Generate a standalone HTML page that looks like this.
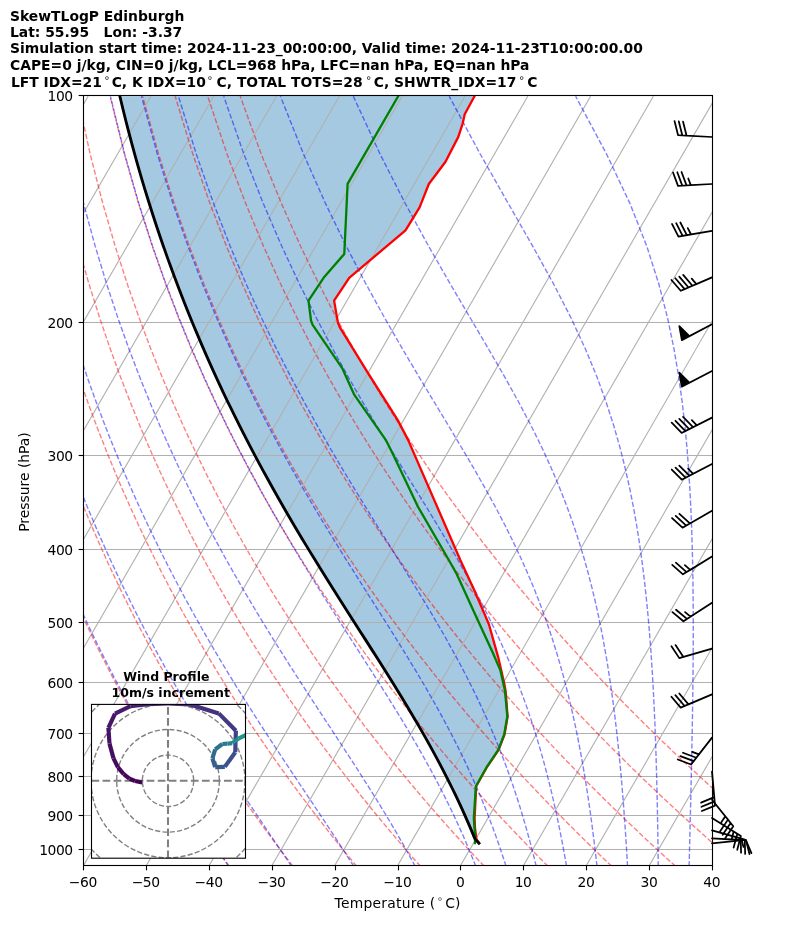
<!DOCTYPE html>
<html lang="en"><head><meta charset="utf-8"><title>SkewTLogP Edinburgh</title>
<style>html,body{margin:0;padding:0;background:#fff}svg{display:block}</style></head>
<body>
<svg width="794" height="937" viewBox="0 0 794 937" style="display:block">
<rect width="794" height="937" fill="#fff"/>
<defs><clipPath id="ax"><rect x="83.5" y="95.5" width="629.0" height="770.0"/></clipPath>
</defs>
<g clip-path="url(#ax)">
<polygon points="478.96,843.20 474.90,838.80 474.62,838.12 472.04,831.89 469.39,825.65 466.68,819.42 463.91,813.19 461.08,806.95 458.18,800.72 455.22,794.48 452.20,788.25 449.12,782.02 445.98,775.78 442.77,769.55 439.51,763.32 436.18,757.08 432.80,750.85 429.36,744.61 425.86,738.38 422.32,732.15 418.72,725.91 415.08,719.68 411.40,713.45 407.68,707.21 403.92,700.98 400.12,694.74 396.28,688.51 392.42,682.28 388.53,676.04 384.61,669.81 380.68,663.57 376.73,657.34 372.76,651.11 368.78,644.87 364.80,638.64 360.81,632.41 356.82,626.17 352.83,619.94 348.85,613.70 344.87,607.47 340.90,601.24 336.95,595.00 333.01,588.77 329.08,582.54 325.18,576.30 321.29,570.07 317.43,563.83 313.59,557.60 309.78,551.37 305.99,545.13 302.23,538.90 298.50,532.67 294.79,526.43 291.12,520.20 287.48,513.96 283.87,507.73 280.30,501.50 276.75,495.26 273.24,489.03 269.77,482.79 266.33,476.56 262.92,470.33 259.54,464.09 256.21,457.86 252.90,451.63 249.64,445.39 246.40,439.16 243.21,432.92 240.04,426.69 236.92,420.46 233.83,414.22 230.77,407.99 227.75,401.76 224.76,395.52 221.81,389.29 218.90,383.05 216.01,376.82 213.17,370.59 210.36,364.35 207.58,358.12 204.83,351.89 202.13,345.65 199.45,339.42 196.81,333.18 194.20,326.95 191.63,320.72 189.09,314.48 186.58,308.25 184.10,302.02 181.66,295.78 179.25,289.55 176.88,283.31 174.53,277.08 172.22,270.85 169.94,264.61 167.69,258.38 165.48,252.14 163.29,245.91 161.14,239.68 159.02,233.44 156.92,227.21 154.86,220.98 152.83,214.74 150.84,208.51 148.87,202.27 146.93,196.04 145.02,189.81 143.14,183.57 141.29,177.34 139.47,171.11 137.68,164.87 135.92,158.64 134.19,152.40 132.49,146.17 130.81,139.94 129.17,133.70 127.55,127.47 125.96,121.24 124.40,115.00 122.87,108.77 121.36,102.53 119.89,96.30 474.90,95.50 464.70,114.30 462.70,123.30 458.30,136.90 445.50,161.70 428.80,184.00 419.60,207.30 405.50,230.40 349.20,277.80 334.10,300.60 337.90,322.60 340.00,327.70 366.80,371.20 397.60,419.90 408.30,440.40 460.30,560.00 473.50,588.40 488.90,624.30 498.30,657.60 504.20,683.20 505.60,690.90 507.60,716.50 504.60,734.40 498.60,749.80 486.60,767.70 476.20,786.20 475.00,810.40 474.60,817.90 475.00,828.00 476.50,839.50 479.00,843.00" fill="#1f77b4" fill-opacity="0.4"/>
<g stroke="#b0b0b0" stroke-width="1.11" fill="none">
<line x1="83.5" y1="95.50" x2="712.5" y2="95.50"/>
<line x1="83.5" y1="322.50" x2="712.5" y2="322.50"/>
<line x1="83.5" y1="455.50" x2="712.5" y2="455.50"/>
<line x1="83.5" y1="549.50" x2="712.5" y2="549.50"/>
<line x1="83.5" y1="622.50" x2="712.5" y2="622.50"/>
<line x1="83.5" y1="682.50" x2="712.5" y2="682.50"/>
<line x1="83.5" y1="733.50" x2="712.5" y2="733.50"/>
<line x1="83.5" y1="776.50" x2="712.5" y2="776.50"/>
<line x1="83.5" y1="815.50" x2="712.5" y2="815.50"/>
<line x1="83.5" y1="849.50" x2="712.5" y2="849.50"/>
<line x1="-419.39" y1="866.30" x2="25.28" y2="96.30"/>
<line x1="-356.58" y1="866.30" x2="88.09" y2="96.30"/>
<line x1="-293.77" y1="866.30" x2="150.90" y2="96.30"/>
<line x1="-230.96" y1="866.30" x2="213.71" y2="96.30"/>
<line x1="-168.15" y1="866.30" x2="276.52" y2="96.30"/>
<line x1="-105.34" y1="866.30" x2="339.33" y2="96.30"/>
<line x1="-42.53" y1="866.30" x2="402.14" y2="96.30"/>
<line x1="20.28" y1="866.30" x2="464.95" y2="96.30"/>
<line x1="83.09" y1="866.30" x2="527.76" y2="96.30"/>
<line x1="145.90" y1="866.30" x2="590.57" y2="96.30"/>
<line x1="208.71" y1="866.30" x2="653.38" y2="96.30"/>
<line x1="271.52" y1="866.30" x2="716.19" y2="96.30"/>
<line x1="334.33" y1="866.30" x2="779.00" y2="96.30"/>
<line x1="397.23" y1="866.30" x2="841.90" y2="96.30"/>
<line x1="460.13" y1="866.30" x2="904.80" y2="96.30"/>
<line x1="523.03" y1="866.30" x2="967.70" y2="96.30"/>
<line x1="585.93" y1="866.30" x2="1030.60" y2="96.30"/>
<line x1="648.83" y1="866.30" x2="1093.50" y2="96.30"/>
<line x1="711.73" y1="866.30" x2="1156.40" y2="96.30"/>
</g>
<g stroke="#ff0000" stroke-opacity="0.5" stroke-width="1.389" fill="none" stroke-dasharray="5.139 2.222">
<polyline points="229.26,866.30 224.90,860.20 220.50,853.98 216.06,847.64 211.57,841.17 207.05,834.58 202.48,827.85 197.86,820.98 193.20,813.96 188.49,806.79 183.74,799.45 178.93,791.95 174.07,784.28 169.16,776.41 164.20,768.36 159.18,760.10 154.11,751.63 148.97,742.93 143.78,734.00 138.52,724.82 133.20,715.37 127.82,705.64 122.37,695.61 116.84,685.26 111.25,674.58 105.58,663.54 99.84,652.11 94.01,640.27 88.11,627.98 82.12,615.22 76.05,601.94 69.89,588.09 63.64,573.64 57.29,558.52 50.85,542.66 44.31,526.00 37.68,508.44 30.94,489.89 24.11,470.23 17.18,449.31 10.16,426.96 3.05,402.97 -4.14,377.09 -11.38,348.98 -18.65,318.23 -25.91,284.30 -33.09,246.43 -40.07,203.61 -46.66,154.33 -52.54,96.30"/>
<polyline points="292.96,866.30 288.26,860.20 283.51,853.98 278.72,847.64 273.89,841.17 269.00,834.58 264.07,827.85 259.09,820.98 254.05,813.96 248.96,806.79 243.82,799.45 238.62,791.95 233.37,784.28 228.05,776.41 222.68,768.36 217.24,760.10 211.73,751.63 206.17,742.93 200.53,734.00 194.82,724.82 189.04,715.37 183.18,705.64 177.24,695.61 171.23,685.26 165.13,674.58 158.95,663.54 152.67,652.11 146.31,640.27 139.84,627.98 133.28,615.22 126.62,601.94 119.85,588.09 112.97,573.64 105.98,558.52 98.87,542.66 91.64,526.00 84.29,508.44 76.81,489.89 69.19,470.23 61.45,449.31 53.57,426.96 45.56,402.97 37.43,377.09 29.17,348.98 20.83,318.23 12.42,284.30 4.00,246.43 -4.34,203.61 -12.44,154.33 -20.01,96.30"/>
<polyline points="356.68,866.30 351.63,860.20 346.53,853.98 341.39,847.64 336.20,841.17 330.95,834.58 325.66,827.85 320.31,820.98 314.90,813.96 309.43,806.79 303.90,799.45 298.31,791.95 292.66,784.28 286.94,776.41 281.15,768.36 275.29,760.10 269.36,751.63 263.36,742.93 257.28,734.00 251.11,724.82 244.87,715.37 238.54,705.64 232.12,695.61 225.61,685.26 219.01,674.58 212.31,663.54 205.51,652.11 198.60,640.27 191.58,627.98 184.45,615.22 177.19,601.94 169.82,588.09 162.31,573.64 154.67,558.52 146.90,542.66 138.97,526.00 130.90,508.44 122.67,489.89 114.28,470.23 105.71,449.31 96.98,426.96 88.07,402.97 78.99,377.09 69.73,348.98 60.31,318.23 50.75,284.30 41.08,246.43 31.38,203.61 21.78,154.33 12.52,96.30"/>
<polyline points="420.46,866.30 415.07,860.20 409.63,853.98 404.13,847.64 398.58,841.17 392.97,834.58 387.29,827.85 381.56,820.98 375.76,813.96 369.90,806.79 363.99,799.45 358.00,791.95 351.95,784.28 345.83,776.41 339.63,768.36 333.35,760.10 326.99,751.63 320.55,742.93 314.02,734.00 307.41,724.82 300.70,715.37 293.90,705.64 287.00,695.61 280.00,685.26 272.89,674.58 265.67,663.54 258.34,652.11 250.89,640.27 243.31,627.98 235.61,615.22 227.77,601.94 219.78,588.09 211.65,573.64 203.37,558.52 194.92,542.66 186.30,526.00 177.51,508.44 168.53,489.89 159.36,470.23 149.98,449.31 140.39,426.96 130.59,402.97 120.55,377.09 110.29,348.98 99.79,318.23 89.08,284.30 78.17,246.43 67.11,203.61 56.00,154.33 45.05,96.30"/>
<polyline points="484.25,866.30 478.52,860.20 472.73,853.98 466.89,847.64 460.98,841.17 455.01,834.58 448.97,827.85 442.87,820.98 436.70,813.96 430.46,806.79 424.14,799.45 417.75,791.95 411.29,784.28 404.74,776.41 398.11,768.36 391.40,760.10 384.62,751.63 377.74,742.93 370.77,734.00 363.70,724.82 356.54,715.37 349.26,705.64 341.88,695.61 334.39,685.26 326.77,674.58 319.04,663.54 311.18,652.11 303.18,640.27 295.05,627.98 286.77,615.22 278.34,601.94 269.75,588.09 260.99,573.64 252.06,558.52 242.94,542.66 233.63,526.00 224.12,508.44 214.39,489.89 204.44,470.23 194.25,449.31 183.80,426.96 173.10,402.97 162.12,377.09 150.84,348.98 139.28,318.23 127.41,284.30 115.25,246.43 102.83,203.61 90.22,154.33 77.59,96.30"/>
<polyline points="548.03,866.30 541.96,860.20 535.83,853.98 529.64,847.64 523.38,841.17 517.05,834.58 510.65,827.85 504.18,820.98 497.63,813.96 491.01,806.79 484.31,799.45 477.53,791.95 470.66,784.28 463.71,776.41 456.67,768.36 449.54,760.10 442.31,751.63 434.98,742.93 427.54,734.00 420.01,724.82 412.37,715.37 404.62,705.64 396.76,695.61 388.77,685.26 380.65,674.58 372.40,663.54 364.01,652.11 355.47,640.27 346.78,627.98 337.93,615.22 328.91,601.94 319.71,588.09 310.33,573.64 300.75,558.52 290.97,542.66 280.96,526.00 270.73,508.44 260.26,489.89 249.52,470.23 238.51,449.31 227.22,426.96 215.61,402.97 203.68,377.09 191.40,348.98 178.76,318.23 165.74,284.30 152.34,246.43 138.56,203.61 124.45,154.33 110.12,96.30"/>
<polyline points="611.81,866.30 605.41,860.20 598.93,853.98 592.39,847.64 585.78,841.17 579.09,834.58 572.33,827.85 565.49,820.98 558.57,813.96 551.57,806.79 544.48,799.45 537.31,791.95 530.04,784.28 522.68,776.41 515.23,768.36 507.67,760.10 500.02,751.63 492.25,742.93 484.37,734.00 476.38,724.82 468.27,715.37 460.03,705.64 451.67,695.61 443.16,685.26 434.54,674.58 425.77,663.54 416.85,652.11 407.77,640.27 398.52,627.98 389.09,615.22 379.48,601.94 369.68,588.09 359.67,573.64 349.44,558.52 338.99,542.66 328.29,526.00 317.34,508.44 306.12,489.89 294.60,470.23 282.78,449.31 270.63,426.96 258.12,402.97 245.24,377.09 231.96,348.98 218.24,318.23 204.07,284.30 189.42,246.43 174.28,203.61 158.67,154.33 142.65,96.30"/>
<polyline points="675.59,866.30 668.85,860.20 662.03,853.98 655.14,847.64 648.18,841.17 641.13,834.58 634.01,827.85 626.80,820.98 619.51,813.96 612.12,806.79 604.65,799.45 597.08,791.95 589.42,784.28 581.66,776.41 573.79,768.36 565.81,760.10 557.73,751.63 549.52,742.93 541.20,734.00 532.76,724.82 524.18,715.37 515.47,705.64 506.62,695.61 497.63,685.26 488.48,674.58 479.17,663.54 469.70,652.11 460.06,640.27 450.25,627.98 440.25,615.22 430.05,601.94 419.64,588.09 409.01,573.64 398.13,558.52 387.01,542.66 375.62,526.00 363.95,508.44 351.98,489.89 339.69,470.23 327.05,449.31 314.04,426.96 300.64,402.97 286.81,377.09 272.51,348.98 257.73,318.23 242.40,284.30 226.51,246.43 210.01,203.61 192.89,154.33 175.18,96.30"/>
<polyline points="739.38,866.30 732.29,860.20 725.14,853.98 717.90,847.64 710.58,841.17 703.18,834.58 695.69,827.85 688.11,820.98 680.44,813.96 672.68,806.79 664.82,799.45 656.86,791.95 648.80,784.28 640.63,776.41 632.35,768.36 623.95,760.10 615.44,751.63 606.80,742.93 598.03,734.00 589.13,724.82 580.09,715.37 570.91,705.64 561.58,695.61 552.09,685.26 542.44,674.58 532.61,663.54 522.61,652.11 512.42,640.27 502.03,627.98 491.43,615.22 480.63,601.94 469.61,588.09 458.35,573.64 446.83,558.52 435.04,542.66 422.95,526.00 410.56,508.44 397.84,489.89 384.77,470.23 371.31,449.31 357.45,426.96 343.15,402.97 328.37,377.09 313.07,348.98 297.21,318.23 280.73,284.30 263.59,246.43 245.73,203.61 227.11,154.33 207.72,96.30"/>
<polyline points="803.16,866.30 795.74,860.20 788.24,853.98 780.65,847.64 772.98,841.17 765.22,834.58 757.37,827.85 749.42,820.98 741.38,813.96 733.24,806.79 724.99,799.45 716.64,791.95 708.18,784.28 699.60,776.41 690.91,768.36 682.09,760.10 673.15,751.63 664.07,742.93 654.86,734.00 645.51,724.82 636.01,715.37 626.35,705.64 616.54,695.61 606.55,685.26 596.40,674.58 586.05,663.54 575.52,652.11 564.78,640.27 553.84,627.98 542.67,615.22 531.26,601.94 519.61,588.09 507.69,573.64 495.52,558.52 483.06,542.66 470.28,526.00 457.17,508.44 443.70,489.89 429.85,470.23 415.58,449.31 400.86,426.96 385.66,402.97 369.93,377.09 353.63,348.98 336.69,318.23 319.06,284.30 300.68,246.43 281.46,203.61 261.33,154.33 240.25,96.30"/>
</g>
<g stroke="#0000ff" stroke-opacity="0.5" stroke-width="1.389" fill="none" stroke-dasharray="5.139 2.222">
<polyline points="228.70,866.30 224.57,860.20 220.38,853.98 216.14,847.64 211.84,841.17 207.47,834.58 203.05,827.85 198.57,820.98 194.03,813.96 189.43,806.79 184.77,799.45 180.05,791.95 175.26,784.28 170.42,776.41 165.51,768.36 160.54,760.10 155.50,751.63 150.40,742.93 145.23,734.00 139.99,724.82 134.69,715.37 129.31,705.64 123.87,695.61 118.35,685.26 112.75,674.58 107.08,663.54 101.33,652.11 95.50,640.27 89.58,627.98 83.59,615.22 77.50,601.94 71.32,588.09 65.05,573.64 58.69,558.52 52.23,542.66 45.68,526.00 39.02,508.44 32.27,489.89 25.41,470.23 18.46,449.31 11.41,426.96 4.27,402.97 -2.94,377.09 -10.21,348.98 -17.52,318.23 -24.81,284.30 -32.02,246.43 -39.04,203.61 -45.68,154.33 -51.60,96.30"/>
<polyline points="291.59,866.30 287.45,860.20 283.23,853.98 278.92,847.64 274.53,841.17 270.07,834.58 265.51,827.85 260.88,820.98 256.16,813.96 251.36,806.79 246.48,799.45 241.51,791.95 236.46,784.28 231.33,776.41 226.11,768.36 220.81,760.10 215.43,751.63 209.96,742.93 204.40,734.00 198.76,724.82 193.03,715.37 187.21,705.64 181.30,695.61 175.30,685.26 169.21,674.58 163.02,663.54 156.73,652.11 150.35,640.27 143.87,627.98 137.28,615.22 130.58,601.94 123.77,588.09 116.85,573.64 109.82,558.52 102.66,542.66 95.38,526.00 87.97,508.44 80.43,489.89 72.75,470.23 64.94,449.31 57.00,426.96 48.92,402.97 40.71,377.09 32.38,348.98 23.95,318.23 15.44,284.30 6.92,246.43 -1.52,203.61 -9.74,154.33 -17.44,96.30"/>
<polyline points="353.79,866.30 349.91,860.20 345.92,853.98 341.82,847.64 337.62,841.17 333.31,834.58 328.88,827.85 324.34,820.98 319.68,813.96 314.91,806.79 310.02,799.45 305.01,791.95 299.88,784.28 294.64,776.41 289.27,768.36 283.79,760.10 278.19,751.63 272.47,742.93 266.63,734.00 260.67,724.82 254.59,715.37 248.40,705.64 242.08,695.61 235.64,685.26 229.08,674.58 222.40,663.54 215.59,652.11 208.66,640.27 201.60,627.98 194.40,615.22 187.08,601.94 179.62,588.09 172.02,573.64 164.27,558.52 156.38,542.66 148.33,526.00 140.12,508.44 131.74,489.89 123.20,470.23 114.48,449.31 105.58,426.96 96.49,402.97 87.22,377.09 77.76,348.98 68.13,318.23 58.34,284.30 48.43,246.43 38.46,203.61 28.56,154.33 18.97,96.30"/>
<polyline points="415.17,866.30 411.88,860.20 408.48,853.98 404.95,847.64 401.30,841.17 397.51,834.58 393.59,827.85 389.52,820.98 385.31,813.96 380.94,806.79 376.42,799.45 371.75,791.95 366.93,784.28 361.94,776.41 356.78,768.36 351.45,760.10 345.96,751.63 340.28,742.93 334.44,734.00 328.42,724.82 322.22,715.37 315.85,705.64 309.30,695.61 302.57,685.26 295.67,674.58 288.59,663.54 281.34,652.11 273.92,640.27 266.31,627.98 258.53,615.22 250.58,601.94 242.44,588.09 234.12,573.64 225.61,558.52 216.92,542.66 208.03,526.00 198.93,508.44 189.63,489.89 180.12,470.23 170.37,449.31 160.40,426.96 150.18,402.97 139.71,377.09 128.98,348.98 118.00,318.23 106.75,284.30 95.26,246.43 83.58,203.61 71.78,154.33 60.05,96.30"/>
<polyline points="475.82,866.30 473.40,860.20 470.87,853.98 468.23,847.64 465.48,841.17 462.60,834.58 459.59,827.85 456.45,820.98 453.16,813.96 449.71,806.79 446.10,799.45 442.33,791.95 438.37,784.28 434.22,776.41 429.88,768.36 425.32,760.10 420.55,751.63 415.56,742.93 410.32,734.00 404.86,724.82 399.15,715.37 393.18,705.64 386.95,695.61 380.45,685.26 373.67,674.58 366.62,663.54 359.29,652.11 351.68,640.27 343.80,627.98 335.64,615.22 327.20,601.94 318.48,588.09 309.49,573.64 300.23,558.52 290.70,542.66 280.88,526.00 270.80,508.44 260.42,489.89 249.76,470.23 238.80,449.31 227.53,426.96 215.94,402.97 204.02,377.09 191.74,348.98 179.09,318.23 166.07,284.30 152.65,246.43 138.86,203.61 124.74,154.33 110.40,96.30"/>
<polyline points="506.03,866.30 504.07,860.20 502.03,853.98 499.89,847.64 497.66,841.17 495.32,834.58 492.86,827.85 490.29,820.98 487.59,813.96 484.75,806.79 481.77,799.45 478.63,791.95 475.32,784.28 471.83,776.41 468.16,768.36 464.28,760.10 460.19,751.63 455.86,742.93 451.30,734.00 446.48,724.82 441.38,715.37 436.00,705.64 430.33,695.61 424.35,685.26 418.05,674.58 411.42,663.54 404.44,652.11 397.10,640.27 389.41,627.98 381.36,615.22 372.93,601.94 364.15,588.09 355.00,573.64 345.49,558.52 335.62,542.66 325.39,526.00 314.81,508.44 303.87,489.89 292.58,470.23 280.92,449.31 268.89,426.96 256.48,402.97 243.67,377.09 230.45,348.98 216.78,318.23 202.66,284.30 188.06,246.43 172.97,203.61 157.41,154.33 141.46,96.30"/>
<polyline points="536.25,866.30 534.76,860.20 533.19,853.98 531.56,847.64 529.84,841.17 528.04,834.58 526.15,827.85 524.17,820.98 522.08,813.96 519.89,806.79 517.57,799.45 515.12,791.95 512.54,784.28 509.80,776.41 506.90,768.36 503.83,760.10 500.57,751.63 497.10,742.93 493.41,734.00 489.49,724.82 485.30,715.37 480.83,705.64 476.07,695.61 470.98,685.26 465.55,674.58 459.74,663.54 453.56,652.11 446.97,640.27 439.94,627.98 432.46,615.22 424.51,601.94 416.08,588.09 407.16,573.64 397.73,558.52 387.81,542.66 377.39,526.00 366.48,508.44 355.09,489.89 343.21,470.23 330.85,449.31 318.01,426.96 304.69,402.97 290.87,377.09 276.55,348.98 261.69,318.23 246.27,284.30 230.26,246.43 213.63,203.61 196.36,154.33 178.48,96.30"/>
<polyline points="566.56,866.30 565.49,860.20 564.37,853.98 563.21,847.64 561.98,841.17 560.70,834.58 559.35,827.85 557.93,820.98 556.44,813.96 554.86,806.79 553.19,799.45 551.43,791.95 549.57,784.28 547.59,776.41 545.49,768.36 543.26,760.10 540.88,751.63 538.34,742.93 535.63,734.00 532.72,724.82 529.60,715.37 526.25,705.64 522.64,695.61 518.76,685.26 514.56,674.58 510.03,663.54 505.12,652.11 499.80,640.27 494.03,627.98 487.78,615.22 481.00,601.94 473.66,588.09 465.72,573.64 457.13,558.52 447.87,542.66 437.91,526.00 427.24,508.44 415.84,489.89 403.73,470.23 390.92,449.31 377.40,426.96 363.20,402.97 348.32,377.09 332.76,348.98 316.51,318.23 299.55,284.30 281.83,246.43 263.32,203.61 243.96,154.33 223.73,96.30"/>
<polyline points="596.98,866.30 596.30,860.20 595.58,853.98 594.84,847.64 594.05,841.17 593.23,834.58 592.36,827.85 591.45,820.98 590.49,813.96 589.48,806.79 588.41,799.45 587.27,791.95 586.07,784.28 584.79,776.41 583.43,768.36 581.98,760.10 580.43,751.63 578.77,742.93 576.99,734.00 575.08,724.82 573.02,715.37 570.80,705.64 568.40,695.61 565.79,685.26 562.96,674.58 559.87,663.54 556.49,652.11 552.79,640.27 548.73,627.98 544.26,615.22 539.32,601.94 533.85,588.09 527.80,573.64 521.08,558.52 513.63,542.66 505.36,526.00 496.20,508.44 486.06,489.89 474.88,470.23 462.61,449.31 449.24,426.96 434.75,402.97 419.17,377.09 402.52,348.98 384.84,318.23 366.13,284.30 346.38,246.43 325.56,203.61 303.61,154.33 280.45,96.30"/>
<polyline points="627.54,866.30 627.19,860.20 626.82,853.98 626.44,847.64 626.03,841.17 625.61,834.58 625.16,827.85 624.68,820.98 624.18,813.96 623.65,806.79 623.08,799.45 622.48,791.95 621.84,784.28 621.16,776.41 620.43,768.36 619.65,760.10 618.81,751.63 617.91,742.93 616.94,734.00 615.89,724.82 614.76,715.37 613.52,705.64 612.18,695.61 610.72,685.26 609.12,674.58 607.37,663.54 605.43,652.11 603.30,640.27 600.93,627.98 598.30,615.22 595.35,601.94 592.05,588.09 588.34,573.64 584.13,558.52 579.35,542.66 573.90,526.00 567.65,508.44 560.47,489.89 552.21,470.23 542.70,449.31 531.73,426.96 519.14,402.97 504.78,377.09 488.55,348.98 470.44,318.23 450.48,284.30 428.75,246.43 405.32,203.61 380.20,154.33 353.32,96.30"/>
<polyline points="658.25,866.30 658.18,860.20 658.10,853.98 658.02,847.64 657.93,841.17 657.83,834.58 657.72,827.85 657.60,820.98 657.48,813.96 657.34,806.79 657.19,799.45 657.02,791.95 656.84,784.28 656.64,776.41 656.42,768.36 656.18,760.10 655.91,751.63 655.62,742.93 655.29,734.00 654.94,724.82 654.54,715.37 654.10,705.64 653.60,695.61 653.05,685.26 652.44,674.58 651.75,663.54 650.98,652.11 650.10,640.27 649.11,627.98 647.99,615.22 646.71,601.94 645.25,588.09 643.57,573.64 641.63,558.52 639.38,542.66 636.76,526.00 633.67,508.44 630.02,489.89 625.68,470.23 620.46,449.31 614.14,426.96 606.44,402.97 597.03,377.09 585.43,348.98 571.17,318.23 553.76,284.30 532.84,246.43 508.34,203.61 480.38,154.33 449.21,96.30"/>
<polyline points="689.11,866.30 689.26,860.20 689.41,853.98 689.57,847.64 689.73,841.17 689.90,834.58 690.06,827.85 690.23,820.98 690.40,813.96 690.57,806.79 690.75,799.45 690.92,791.95 691.10,784.28 691.27,776.41 691.45,768.36 691.63,760.10 691.80,751.63 691.97,742.93 692.14,734.00 692.31,724.82 692.47,715.37 692.62,705.64 692.77,695.61 692.90,685.26 693.01,674.58 693.11,663.54 693.19,652.11 693.24,640.27 693.26,627.98 693.23,615.22 693.16,601.94 693.03,588.09 692.83,573.64 692.53,558.52 692.12,542.66 691.58,526.00 690.86,508.44 689.91,489.89 688.69,470.23 687.10,449.31 685.03,426.96 682.32,402.97 678.76,377.09 674.02,348.98 667.63,318.23 658.91,284.30 646.86,246.43 630.01,203.61 606.70,154.33 575.63,96.30"/>
<polyline points="720.09,866.30 720.42,860.20 720.75,853.98 721.10,847.64 721.46,841.17 721.83,834.58 722.20,827.85 722.59,820.98 722.99,813.96 723.40,806.79 723.82,799.45 724.26,791.95 724.71,784.28 725.17,776.41 725.64,768.36 726.13,760.10 726.64,751.63 727.16,742.93 727.69,734.00 728.24,724.82 728.81,715.37 729.39,705.64 730.00,695.61 730.62,685.26 731.25,674.58 731.91,663.54 732.59,652.11 733.28,640.27 734.00,627.98 734.73,615.22 735.49,601.94 736.26,588.09 737.04,573.64 737.84,558.52 738.64,542.66 739.45,526.00 740.25,508.44 741.04,489.89 741.81,470.23 742.51,449.31 743.14,426.96 743.64,402.97 743.94,377.09 743.94,348.98 743.49,318.23 742.32,284.30 739.99,246.43 735.75,203.61 728.17,154.33 714.50,96.30"/>
<polyline points="751.18,866.30 751.65,860.20 752.12,853.98 752.61,847.64 753.12,841.17 753.64,834.58 754.18,827.85 754.73,820.98 755.30,813.96 755.89,806.79 756.49,799.45 757.12,791.95 757.77,784.28 758.44,776.41 759.13,768.36 759.85,760.10 760.59,751.63 761.36,742.93 762.16,734.00 762.99,724.82 763.84,715.37 764.73,705.64 765.66,695.61 766.62,685.26 767.63,674.58 768.67,663.54 769.76,652.11 770.90,640.27 772.09,627.98 773.33,615.22 774.63,601.94 775.99,588.09 777.42,573.64 778.92,558.52 780.50,542.66 782.17,526.00 783.92,508.44 785.77,489.89 787.73,470.23 789.81,449.31 792.00,426.96 794.33,402.97 796.79,377.09 799.39,348.98 802.13,318.23 804.98,284.30 807.89,246.43 810.74,203.61 813.27,154.33 814.84,96.30"/>
<polyline points="782.37,866.30 782.93,860.20 783.51,853.98 784.11,847.64 784.72,841.17 785.35,834.58 786.00,827.85 786.68,820.98 787.37,813.96 788.09,806.79 788.83,799.45 789.59,791.95 790.38,784.28 791.20,776.41 792.05,768.36 792.92,760.10 793.83,751.63 794.78,742.93 795.76,734.00 796.78,724.82 797.84,715.37 798.94,705.64 800.09,695.61 801.29,685.26 802.54,674.58 803.84,663.54 805.21,652.11 806.64,640.27 808.14,627.98 809.72,615.22 811.38,601.94 813.13,588.09 814.98,573.64 816.93,558.52 819.00,542.66 821.20,526.00 823.54,508.44 826.04,489.89 828.72,470.23 831.61,449.31 834.71,426.96 838.08,402.97 841.75,377.09 845.77,348.98 850.19,318.23 855.09,284.30 860.56,246.43 866.74,203.61 873.77,154.33 881.85,96.30"/>
</g>
<polyline points="474.90,95.50 464.70,114.30 462.70,123.30 458.30,136.90 445.50,161.70 428.80,184.00 419.60,207.30 405.50,230.40 349.20,277.80 334.10,300.60 337.90,322.60 340.00,327.70 366.80,371.20 397.60,419.90 408.30,440.40 460.30,560.00 473.50,588.40 488.90,624.30 498.30,657.60 504.20,683.20 505.60,690.90 507.60,716.50 504.60,734.40 498.60,749.80 486.60,767.70 476.20,786.20 475.00,810.40 474.60,817.90 475.00,828.00 476.50,839.50 479.00,843.00" stroke="#ff0000" stroke-width="2.3" fill="none" stroke-linejoin="round"/>
<polyline points="398.60,95.50 347.60,183.90 344.30,253.90 323.60,277.80 308.50,300.60 311.00,320.50 312.50,324.60 342.50,368.70 354.00,394.30 386.10,440.40 392.50,453.20 418.10,507.00 448.80,560.00 456.80,574.30 476.10,616.60 492.70,652.50 500.40,670.40 505.00,690.90 507.30,716.50 504.20,734.40 498.30,749.80 486.30,767.70 475.90,786.20 474.30,810.40 473.80,817.90 474.50,828.00 475.20,836.50 474.90,844.30" stroke="#008000" stroke-width="2.3" fill="none" stroke-linejoin="round"/>
<polyline points="478.96,843.20 474.90,838.80 474.62,838.12 472.04,831.89 469.39,825.65 466.68,819.42 463.91,813.19 461.08,806.95 458.18,800.72 455.22,794.48 452.20,788.25 449.12,782.02 445.98,775.78 442.77,769.55 439.51,763.32 436.18,757.08 432.80,750.85 429.36,744.61 425.86,738.38 422.32,732.15 418.72,725.91 415.08,719.68 411.40,713.45 407.68,707.21 403.92,700.98 400.12,694.74 396.28,688.51 392.42,682.28 388.53,676.04 384.61,669.81 380.68,663.57 376.73,657.34 372.76,651.11 368.78,644.87 364.80,638.64 360.81,632.41 356.82,626.17 352.83,619.94 348.85,613.70 344.87,607.47 340.90,601.24 336.95,595.00 333.01,588.77 329.08,582.54 325.18,576.30 321.29,570.07 317.43,563.83 313.59,557.60 309.78,551.37 305.99,545.13 302.23,538.90 298.50,532.67 294.79,526.43 291.12,520.20 287.48,513.96 283.87,507.73 280.30,501.50 276.75,495.26 273.24,489.03 269.77,482.79 266.33,476.56 262.92,470.33 259.54,464.09 256.21,457.86 252.90,451.63 249.64,445.39 246.40,439.16 243.21,432.92 240.04,426.69 236.92,420.46 233.83,414.22 230.77,407.99 227.75,401.76 224.76,395.52 221.81,389.29 218.90,383.05 216.01,376.82 213.17,370.59 210.36,364.35 207.58,358.12 204.83,351.89 202.13,345.65 199.45,339.42 196.81,333.18 194.20,326.95 191.63,320.72 189.09,314.48 186.58,308.25 184.10,302.02 181.66,295.78 179.25,289.55 176.88,283.31 174.53,277.08 172.22,270.85 169.94,264.61 167.69,258.38 165.48,252.14 163.29,245.91 161.14,239.68 159.02,233.44 156.92,227.21 154.86,220.98 152.83,214.74 150.84,208.51 148.87,202.27 146.93,196.04 145.02,189.81 143.14,183.57 141.29,177.34 139.47,171.11 137.68,164.87 135.92,158.64 134.19,152.40 132.49,146.17 130.81,139.94 129.17,133.70 127.55,127.47 125.96,121.24 124.40,115.00 122.87,108.77 121.36,102.53 119.89,96.30" stroke="#000" stroke-width="2.85" fill="none" stroke-linejoin="round" stroke-linecap="square"/>
</g>
<g stroke="#000" stroke-width="1.75" fill="#000" stroke-linejoin="round">
<polygon points="712.00,137.00 678.03,135.04 674.57,121.21 678.03,135.04 682.28,135.29 678.81,121.45 682.28,135.29 686.52,135.53 683.06,121.70 686.52,135.53"/>
<polygon points="712.00,184.00 678.02,185.84 673.04,172.48 678.02,185.84 682.27,185.61 677.29,172.25 682.27,185.61 686.52,185.38 681.53,172.02 686.52,185.38 690.76,185.15 688.27,178.47 690.76,185.15"/>
<polygon points="712.00,230.90 678.46,236.63 671.97,223.93 678.46,236.63 682.65,235.92 676.17,223.22 682.65,235.92 686.84,235.20 680.36,222.50 686.84,235.20 691.04,234.48 687.79,228.13 691.04,234.48"/>
<polygon points="712.00,277.40 680.72,290.80 671.45,279.97 680.72,290.80 684.63,289.13 675.36,278.29 684.63,289.13 688.54,287.45 679.27,276.62 688.54,287.45 692.45,285.78 683.18,274.94 692.45,285.78 696.36,284.10 691.73,278.69 696.36,284.10"/>
<polygon points="712.00,324.30 681.87,340.12 679.31,326.09 689.40,336.16"/>
<polygon points="712.00,371.00 681.79,386.66 679.30,372.62 689.34,382.74"/>
<polygon points="712.00,417.60 681.63,432.94 671.69,422.71 681.63,432.94 685.42,431.02 675.49,420.79 685.42,431.02 689.22,429.11 679.29,418.88 689.22,429.11 693.02,427.19 683.08,416.96 693.02,427.19 696.81,425.27 691.85,420.16 696.81,425.27"/>
<polygon points="712.00,464.00 681.79,479.66 671.75,469.53 681.79,479.66 685.57,477.70 675.53,467.58 685.57,477.70 689.34,475.74 679.30,465.62 689.34,475.74 693.12,473.79 688.10,468.72 693.12,473.79"/>
<polygon points="712.00,510.70 682.53,527.71 672.04,518.05 682.53,527.71 686.21,525.59 675.73,515.93 686.21,525.59 689.90,523.46 679.41,513.80 689.90,523.46"/>
<polygon points="712.00,556.60 682.96,574.33 672.23,564.93 682.96,574.33 686.59,572.11 675.86,562.71 686.59,572.11 690.22,569.90 684.86,565.20 690.22,569.90"/>
<polygon points="712.00,602.80 683.40,621.23 672.45,612.10 683.40,621.23 686.97,618.93 676.02,609.79 686.97,618.93 690.55,616.62 685.07,612.06 690.55,616.62"/>
<polygon points="712.00,648.70 679.31,658.14 671.45,646.24 679.31,658.14 683.39,656.96 675.53,645.06 683.39,656.96"/>
<polygon points="712.00,694.40 680.65,707.64 671.44,696.76 680.65,707.64 684.57,705.99 675.36,695.10 684.57,705.99 688.49,704.33 679.28,693.45 688.49,704.33"/>
<polygon points="712.00,737.60 691.10,764.45 677.74,759.45 691.10,764.45 693.71,761.09 680.36,756.09 693.71,761.09 696.32,757.74 682.97,752.73 696.32,757.74 698.94,754.38 692.26,751.88 698.94,754.38"/>
<polygon points="712.00,771.70 715.02,805.59 701.85,811.04 715.02,805.59 714.65,801.36 701.47,806.80 714.65,801.36 714.27,797.12 701.09,802.57 714.27,797.12"/>
<polygon points="712.00,799.70 733.28,826.26 725.31,838.09 733.28,826.26 730.62,822.94 722.65,834.77 730.62,822.94 727.96,819.62 719.99,831.45 727.96,819.62 725.30,816.30 721.32,822.21 725.30,816.30"/>
<polygon points="712.00,818.00 740.86,836.03 737.25,849.83 740.86,836.03 737.25,833.78 733.64,847.57 737.25,833.78 733.64,831.52 731.84,838.42 733.64,831.52"/>
<polygon points="712.00,830.40 744.76,839.61 745.17,853.86 744.76,839.61 740.66,838.46 741.08,852.71 740.66,838.46"/>
<polygon points="712.00,838.40 745.98,840.24 749.49,854.06 745.98,840.24 741.73,840.01 743.49,846.92 741.73,840.01"/>
<polygon points="712.00,843.30 745.87,839.98 751.43,853.11 745.87,839.98"/>
</g>
<rect x="83.5" y="95.5" width="629.0" height="770.0" fill="none" stroke="#000" stroke-width="1.11"/>
<g stroke="#000" stroke-width="1.11">
<line x1="78.64" y1="95.50" x2="83.5" y2="95.50"/>
<line x1="78.64" y1="322.50" x2="83.5" y2="322.50"/>
<line x1="78.64" y1="455.50" x2="83.5" y2="455.50"/>
<line x1="78.64" y1="549.50" x2="83.5" y2="549.50"/>
<line x1="78.64" y1="622.50" x2="83.5" y2="622.50"/>
<line x1="78.64" y1="682.50" x2="83.5" y2="682.50"/>
<line x1="78.64" y1="733.50" x2="83.5" y2="733.50"/>
<line x1="78.64" y1="776.50" x2="83.5" y2="776.50"/>
<line x1="78.64" y1="815.50" x2="83.5" y2="815.50"/>
<line x1="78.64" y1="849.50" x2="83.5" y2="849.50"/>
<line x1="83.50" y1="865.5" x2="83.50" y2="870.36"/>
<line x1="146.50" y1="865.5" x2="146.50" y2="870.36"/>
<line x1="209.50" y1="865.5" x2="209.50" y2="870.36"/>
<line x1="272.50" y1="865.5" x2="272.50" y2="870.36"/>
<line x1="335.50" y1="865.5" x2="335.50" y2="870.36"/>
<line x1="398.50" y1="865.5" x2="398.50" y2="870.36"/>
<line x1="460.50" y1="865.5" x2="460.50" y2="870.36"/>
<line x1="523.50" y1="865.5" x2="523.50" y2="870.36"/>
<line x1="586.50" y1="865.5" x2="586.50" y2="870.36"/>
<line x1="649.50" y1="865.5" x2="649.50" y2="870.36"/>
<line x1="712.50" y1="865.5" x2="712.50" y2="870.36"/>
</g>
<g font-family="'DejaVu Sans', 'Liberation Sans', sans-serif" font-size="13.89" fill="#000">
<text x="72.6" y="101.30" text-anchor="end" letter-spacing="-0.5">100</text>
<text x="72.6" y="328.28" text-anchor="end" letter-spacing="-0.5">200</text>
<text x="72.6" y="461.06" text-anchor="end" letter-spacing="-0.5">300</text>
<text x="72.6" y="555.27" text-anchor="end" letter-spacing="-0.5">400</text>
<text x="72.6" y="628.34" text-anchor="end" letter-spacing="-0.5">500</text>
<text x="72.6" y="688.04" text-anchor="end" letter-spacing="-0.5">600</text>
<text x="72.6" y="738.52" text-anchor="end" letter-spacing="-0.5">700</text>
<text x="72.6" y="782.25" text-anchor="end" letter-spacing="-0.5">800</text>
<text x="72.6" y="820.82" text-anchor="end" letter-spacing="-0.5">900</text>
<text x="72.6" y="855.32" text-anchor="end" letter-spacing="-0.5">1000</text>
<text x="82.80" y="886.6" text-anchor="middle" letter-spacing="-0.4">−60</text>
<text x="145.70" y="886.6" text-anchor="middle" letter-spacing="-0.4">−50</text>
<text x="208.60" y="886.6" text-anchor="middle" letter-spacing="-0.4">−40</text>
<text x="271.50" y="886.6" text-anchor="middle" letter-spacing="-0.4">−30</text>
<text x="334.40" y="886.6" text-anchor="middle" letter-spacing="-0.4">−20</text>
<text x="397.30" y="886.6" text-anchor="middle" letter-spacing="-0.4">−10</text>
<text x="460.20" y="886.6" text-anchor="middle" letter-spacing="-0.4">0</text>
<text x="523.10" y="886.6" text-anchor="middle" letter-spacing="-0.4">10</text>
<text x="586.00" y="886.6" text-anchor="middle" letter-spacing="-0.4">20</text>
<text x="648.90" y="886.6" text-anchor="middle" letter-spacing="-0.4">30</text>
<text x="711.80" y="886.6" text-anchor="middle" letter-spacing="-0.4">40</text>
<text x="334.6" y="907.9" letter-spacing="0.24">Temperature (</text>
<text x="440.0" y="902.4" text-anchor="middle" font-size="9.7" fill="#222">∘</text>
<text x="445.3" y="907.9">C)</text>
<text transform="translate(29.0,482.0) rotate(-90)" text-anchor="middle">Pressure (hPa)</text>
</g>
<g font-family="'DejaVu Sans', 'Liberation Sans', sans-serif" font-size="13.89" font-weight="bold" fill="#000" style="white-space:pre">
<text x="10" y="20.7" xml:space="preserve">SkewTLogP Edinburgh</text>
<text x="10" y="37.0" xml:space="preserve">Lat: 55.95   Lon: -3.37</text>
<text x="10" y="52.9" xml:space="preserve">Simulation start time: 2024-11-23_00:00:00, Valid time: 2024-11-23T10:00:00.00</text>
<text x="10" y="70.0" xml:space="preserve">CAPE=0 j/kg, CIN=0 j/kg, LCL=968 hPa, LFC=nan hPa, EQ=nan hPa</text>
<text x="11.0" y="86.9" xml:space="preserve">LFT IDX=21</text>
<text x="111.7" y="86.9" xml:space="preserve">C, K IDX=10</text>
<text x="216.6" y="86.9" xml:space="preserve">C, TOTAL TOTS=28</text>
<text x="373.8" y="86.9" xml:space="preserve">C, SHWTR_IDX=17</text>
<text x="527.3" y="86.9" xml:space="preserve">C</text>
<text x="107.0" y="80.9" font-size="9.7" text-anchor="middle" fill="#333">∘</text>
<text x="210.1" y="80.9" font-size="9.7" text-anchor="middle" fill="#333">∘</text>
<text x="368.7" y="80.9" font-size="9.7" text-anchor="middle" fill="#333">∘</text>
<text x="521.9" y="80.9" font-size="9.7" text-anchor="middle" fill="#333">∘</text>
</g>
<defs><clipPath id="hd"><rect x="91.5" y="704.4" width="154.0" height="153.80000000000007"/></clipPath></defs>
<rect x="91.5" y="704.4" width="154.0" height="153.80000000000007" fill="#fff"/>
<g clip-path="url(#hd)">
<g stroke="#808080" fill="none">
<circle cx="168.00" cy="780.80" r="25.67" stroke-width="1.39" stroke-dasharray="5.14 2.22"/>
<circle cx="168.00" cy="780.80" r="51.33" stroke-width="1.39" stroke-dasharray="5.14 2.22"/>
<circle cx="168.00" cy="780.80" r="77.00" stroke-width="1.39" stroke-dasharray="5.14 2.22"/>
<circle cx="168.00" cy="780.80" r="102.67" stroke-width="1.39" stroke-dasharray="5.14 2.22"/>
<line x1="91.5" y1="780.80" x2="245.5" y2="780.80" stroke-width="2.08" stroke-dasharray="7.71 3.33"/>
<line x1="168.00" y1="858.2" x2="168.00" y2="704.4" stroke-width="2.08" stroke-dasharray="7.71 3.33"/>
</g>
<line x1="142.2" y1="782.5" x2="135.0" y2="781.0" stroke="#440154" stroke-width="4.17"/>
<line x1="135.0" y1="781.0" x2="129.4" y2="778.6" stroke="#440256" stroke-width="4.17"/>
<line x1="129.4" y1="778.6" x2="123.7" y2="774.2" stroke="#450559" stroke-width="4.17"/>
<line x1="123.7" y1="774.2" x2="118.0" y2="767.4" stroke="#46075a" stroke-width="4.17"/>
<line x1="118.0" y1="767.4" x2="113.5" y2="758.4" stroke="#460a5d" stroke-width="4.17"/>
<line x1="113.5" y1="758.4" x2="109.5" y2="743.6" stroke="#470d60" stroke-width="4.17"/>
<line x1="109.5" y1="743.6" x2="108.4" y2="727.8" stroke="#471164" stroke-width="4.17"/>
<line x1="108.4" y1="727.8" x2="115.0" y2="713.6" stroke="#481668" stroke-width="4.17"/>
<line x1="115.0" y1="713.6" x2="130.5" y2="706.2" stroke="#481b6d" stroke-width="4.17"/>
<line x1="130.5" y1="706.2" x2="148" y2="704.1" stroke="#482071" stroke-width="4.17"/>
<line x1="148" y1="704.1" x2="168" y2="703.5" stroke="#482576" stroke-width="4.17"/>
<line x1="168" y1="703.5" x2="190" y2="704.4" stroke="#472a7a" stroke-width="4.17"/>
<line x1="190" y1="704.4" x2="218.8" y2="713.4" stroke="#46307e" stroke-width="4.17"/>
<line x1="218.8" y1="713.4" x2="235.9" y2="730.7" stroke="#453882" stroke-width="4.17"/>
<line x1="235.9" y1="730.7" x2="235.5" y2="741.5" stroke="#424086" stroke-width="4.17"/>
<line x1="235.5" y1="741.5" x2="235.3" y2="752.2" stroke="#3f4788" stroke-width="4.17"/>
<line x1="235.3" y1="752.2" x2="224.8" y2="766.9" stroke="#3c508b" stroke-width="4.17"/>
<line x1="224.8" y1="766.9" x2="215.2" y2="767.2" stroke="#38598c" stroke-width="4.17"/>
<line x1="215.2" y1="767.2" x2="212.4" y2="758.4" stroke="#34618d" stroke-width="4.17"/>
<line x1="212.4" y1="758.4" x2="215.2" y2="749.4" stroke="#306a8e" stroke-width="4.17"/>
<line x1="215.2" y1="749.4" x2="222.3" y2="744.0" stroke="#2c738e" stroke-width="4.17"/>
<line x1="222.3" y1="744.0" x2="227.4" y2="743.7" stroke="#287c8e" stroke-width="4.17"/>
<line x1="227.4" y1="743.7" x2="232.2" y2="743.1" stroke="#26828e" stroke-width="4.17"/>
<line x1="232.2" y1="743.1" x2="238.4" y2="738.6" stroke="#228b8d" stroke-width="4.17"/>
<line x1="238.4" y1="738.6" x2="246.5" y2="734.6" stroke="#1f958b" stroke-width="4.17"/>
<line x1="246.5" y1="734.6" x2="256" y2="731" stroke="#1f9e89" stroke-width="4.17"/>
</g>
<rect x="91.5" y="704.4" width="154.0" height="153.80000000000007" fill="none" stroke="#000" stroke-width="1.11"/>
<g font-family="'DejaVu Sans', 'Liberation Sans', sans-serif" font-size="12.5" font-weight="bold" fill="#000" text-anchor="middle">
<text x="166.3" y="681.2">Wind Profile</text>
<text x="170.8" y="696.7">10m/s increment</text>
</g>
</svg>
</body></html>
